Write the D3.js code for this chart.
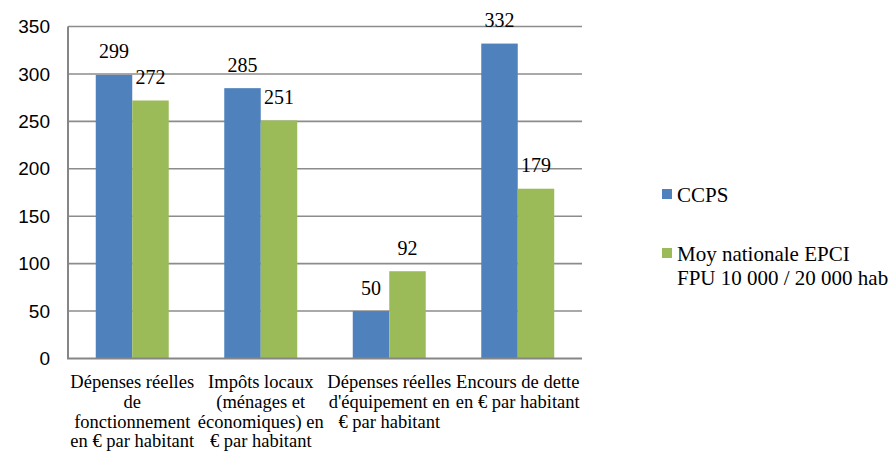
<!DOCTYPE html>
<html>
<head>
<meta charset="utf-8">
<script src="https://cdn.jsdelivr.net/npm/d3@7/dist/d3.min.js"></script>
<style>
  html, body { margin: 0; padding: 0; background: #fff; }
  svg { display: block; }
</style>
</head>
<body>
<svg id="chart" width="896" height="455"></svg>
<script>
// ---- data ----
const categories = [
  "Dépenses réelles\nde\nfonctionnement\nen € par habitant",
  "Impôts locaux\n(ménages et\néconomiques) en\n€ par habitant",
  "Dépenses réelles\nd'équipement en\n€ par habitant",
  "Encours de dette\nen € par habitant"
];
const seriesNames = ["CCPS", "Moy nationale EPCI\nFPU 10 000 / 20 000 hab"];
const ccps = [299, 285, 50, 332];
const moyNationale = [272, 251, 92, 179];
const yTicks = [0, 50, 100, 150, 200, 250, 300, 350];
const colors = ["#4F81BD", "#9BBB59"];

// ---- layout ----
(function () {
const SERIF = '"Liberation Serif", "Times New Roman", serif';
const SANS = '"Liberation Sans", Arial, sans-serif';
const svg = d3.select("#chart");
const pLeft = 68, pRight = 582, pTop = 26.5, pBottom = 358.5;
const seriesValues = [ccps, moyNationale];

const x = d3.scaleBand().domain(d3.range(categories.length))
  .range([pLeft, pRight]).paddingInner(0.432).paddingOuter(0.216);
const x1 = d3.scaleBand().domain(d3.range(seriesNames.length))
  .range([0, x.bandwidth()]).padding(0);
const y = d3.scaleLinear().domain([0, 350]).range([pBottom, pTop]);

// gridlines
svg.append("g").selectAll("line")
  .data(yTicks.filter(t => t > 0))
  .join("line")
  .attr("x1", pLeft).attr("x2", pRight)
  .attr("y1", d => y(d)).attr("y2", d => y(d))
  .attr("stroke", "#8c8c8c").attr("stroke-width", 1.6);

// y axis via d3 axis (labels only)
const yAxis = d3.axisLeft(y).tickValues(yTicks).tickSize(0).tickPadding(18);
const gy = svg.append("g").attr("transform", `translate(${pLeft},0)`).call(yAxis);
gy.select(".domain").remove();
gy.selectAll("text")
  .style("font-family", SANS)
  .style("font-size", "19px").attr("fill", "#000");

// bars
const groups = svg.append("g").selectAll("g")
  .data(categories.map((c, i) => i))
  .join("g")
  .attr("transform", i => `translate(${x(i)},0)`);

groups.selectAll("rect")
  .data(i => seriesValues.map((s, k) => ({k, v: s[i]})))
  .join("rect")
  .attr("x", d => x1(d.k))
  .attr("width", x1.bandwidth())
  .attr("y", d => y(d.v))
  .attr("height", d => y(0) - y(d.v))
  .attr("fill", d => colors[d.k]);

// data labels
groups.selectAll("text")
  .data(i => seriesValues.map((s, k) => ({k, v: s[i]})))
  .join("text")
  .attr("x", d => x1(d.k) + x1.bandwidth() / 2)
  .attr("y", d => y(d.v) - 16.5)
  .attr("text-anchor", "middle")
  .style("font-family", SERIF)
  .style("font-size", "20px")
  .attr("fill", "#000")
  .text(d => d.v);

// axes lines
svg.append("line").attr("x1", pLeft).attr("x2", pLeft).attr("y1", pTop).attr("y2", pBottom)
  .attr("stroke", "#868686").attr("stroke-width", 2);
svg.append("line").attr("x1", pLeft - 1).attr("x2", pRight).attr("y1", pBottom).attr("y2", pBottom)
  .attr("stroke", "#868686").attr("stroke-width", 2);

// category labels
const catG = svg.append("g").selectAll("text")
  .data(categories.map((c, i) => ({c, i})))
  .join("text")
  .attr("text-anchor", "middle")
  .style("font-family", SERIF)
  .style("font-size", "18.5px")
  .attr("fill", "#000");
catG.selectAll("tspan")
  .data(d => d.c.split("\n").map((l, j) => ({l, j, i: d.i})))
  .join("tspan")
  .attr("x", d => x(d.i) + x.bandwidth() / 2)
  .attr("y", d => 388 + d.j * 19.8)
  .text(d => d.l);

// legend
const legY = [189, 248];
const leg = svg.append("g").selectAll("g")
  .data(seriesNames.map((n, k) => ({n, k})))
  .join("g");
leg.append("rect")
  .attr("x", 662).attr("y", d => legY[d.k]).attr("width", 10).attr("height", 10)
  .attr("fill", d => colors[d.k]);
const legText = leg.append("text")
  .style("font-family", SERIF)
  .style("font-size", "21px")
  .attr("fill", "#000");
legText.selectAll("tspan")
  .data(d => d.n.split("\n").map((l, j) => ({l, j, k: d.k})))
  .join("tspan")
  .attr("x", 677)
  .attr("y", d => legY[d.k] + 12.5 + d.j * 24)
  .text(d => d.l);
})();
</script>
</body>
</html>
